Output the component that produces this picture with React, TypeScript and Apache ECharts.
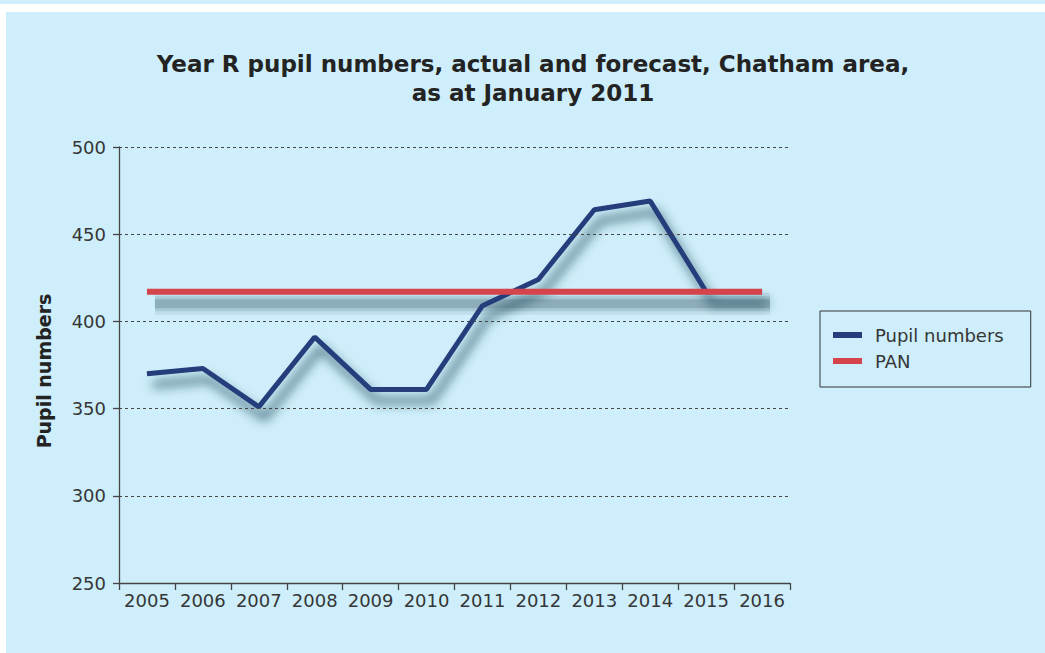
import React, { useEffect, useRef } from "react";
import * as echarts from "echarts";

const years = ["2005", "2006", "2007", "2008", "2009", "2010", "2011", "2012", "2013", "2014", "2015", "2016"];
const pupilNumbers = [370, 373, 351, 391, 361, 361, 409, 424, 464, 469, 417, 417];
const panValues = [417, 417, 417, 417, 417, 417, 417, 417, 417, 417, 417, 417];
const titleLines = ["Year R pupil numbers, actual and forecast, Chatham area,", "as at January 2011"];
const yAxisTitle = "Pupil numbers";

const FONT = '"DejaVu Sans", "Liberation Sans", Arial, sans-serif';
const BG = "#cdeefa";
const AXIS = "#454545";
const TXT = "#363636";

export default function App() {
  const ref = useRef<HTMLDivElement>(null);
  useEffect(() => {
    if (!ref.current) return;
    const chart = echarts.init(ref.current, null, { renderer: "svg" });
    const gridMain = { left: 119, right: 255, top: 147, bottom: 70 };
    const gridShadow = { left: 127, right: 247, top: 159, bottom: 58 };
    const shadowLayers = [
      { width: 22, alpha: 0.08 },
      { width: 15, alpha: 0.12 },
      { width: 9, alpha: 0.18 },
    ];
    const shadowSeries = shadowLayers.map((l, i) => ({
      name: "PAN shadow " + i,
      type: "line",
      xAxisIndex: 1,
      yAxisIndex: 1,
      data: panValues,
      symbol: "none",
      silent: true,
      lineStyle: { color: `rgba(20,50,62,${l.alpha})`, width: l.width, cap: "butt" },
      z: 1,
    }));
    chart.setOption({
      animation: false,
      backgroundColor: BG,
      textStyle: { fontFamily: FONT },
      graphic: [
        { type: "rect", shape: { x: 0, y: 4, width: 1045, height: 8 }, style: { fill: "#ffffff" }, silent: true },
        { type: "rect", shape: { x: 0, y: 12, width: 6, height: 641 }, style: { fill: "#ffffff" }, silent: true },
      ],
      title: {
        text: titleLines.join("\n"),
        left: 528,
        top: 44,
        textAlign: "center",
        textStyle: {
          fontFamily: FONT,
          fontSize: 23,
          fontWeight: "bold",
          color: "#232323",
          lineHeight: 29,
        },
      },
      legend: {
        orient: "vertical",
        left: 820,
        top: 311,
        borderColor: "#333333",
        borderWidth: 1,
        padding: [15, 27, 17, 13],
        itemWidth: 29,
        itemHeight: 6,
        itemGap: 8,
        icon: "rect",
        textStyle: { fontFamily: FONT, fontSize: 18, color: TXT, padding: [0, 0, 0, 8] },
        data: ["Pupil numbers", "PAN"],
      },
      grid: [gridMain, gridShadow],
      xAxis: [
        {
          type: "category",
          gridIndex: 0,
          data: years,
          boundaryGap: true,
          axisLine: { lineStyle: { color: AXIS, width: 1.3 } },
          axisTick: { show: true, length: 7, alignWithLabel: false, lineStyle: { color: AXIS, width: 1.3 } },
          axisLabel: { fontFamily: FONT, fontSize: 18, color: TXT, margin: 8, interval: 0 },
          z: 5,
        },
        { type: "category", gridIndex: 1, data: years, show: false },
      ],
      yAxis: [
        {
          type: "value",
          gridIndex: 0,
          min: 250,
          max: 500,
          interval: 50,
          name: yAxisTitle,
          nameLocation: "middle",
          nameGap: 66,
          nameTextStyle: {
            fontFamily: FONT,
            fontSize: 19,
            fontWeight: "bold",
            color: "#232323",
            padding: [0, 12, 0, 0],
          },
          axisLine: { show: true, lineStyle: { color: AXIS, width: 1.3 } },
          axisTick: { show: true, length: 6, lineStyle: { color: AXIS, width: 1.3 } },
          axisLabel: { fontFamily: FONT, fontSize: 18, color: TXT, margin: 13 },
          splitLine: { show: true, lineStyle: { color: AXIS, type: [3, 3], width: 1 } },
          z: 5,
        },
        { type: "value", gridIndex: 1, min: 250, max: 500, interval: 50, show: false },
      ],
      series: [
        ...shadowSeries,
        {
          name: "Pupil numbers",
          type: "line",
          data: pupilNumbers,
          symbol: "none",
          itemStyle: { color: "#253d7c" },
          lineStyle: {
            color: "#253d7c",
            width: 5,
            shadowColor: "rgba(15,45,60,0.8)",
            shadowBlur: 11,
            shadowOffsetX: 6,
            shadowOffsetY: 11,
          },
          z: 3,
        },
        {
          name: "PAN",
          type: "line",
          data: panValues,
          symbol: "none",
          itemStyle: { color: "#d5444b" },
          lineStyle: { color: "#d5444b", width: 6 },
          z: 4,
        },
      ],
    });
    return () => chart.dispose();
  }, []);
  return (
    <div
      ref={ref}
      style={{ position: "absolute", left: 0, top: 0, width: 1045, height: 653, background: BG }}
    />
  );
}
